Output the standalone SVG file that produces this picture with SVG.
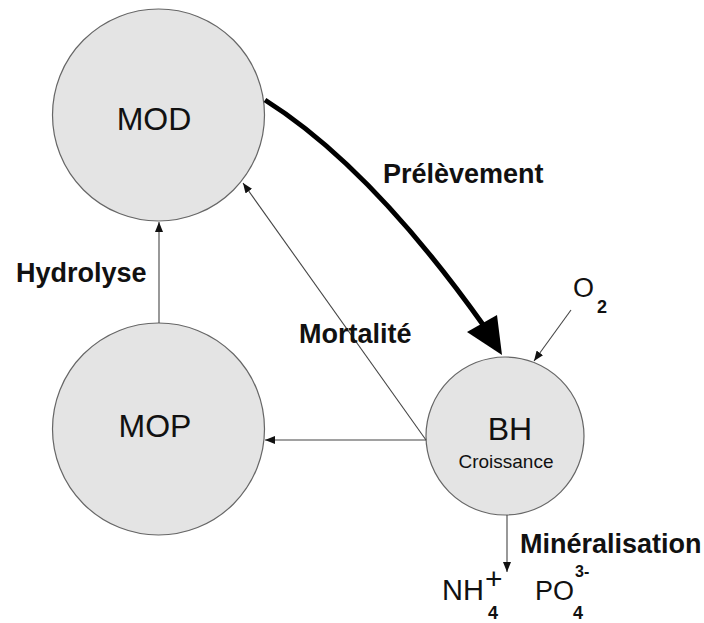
<svg xmlns="http://www.w3.org/2000/svg" width="704" height="623" viewBox="0 0 704 623">
<style>
.node{fill:#e4e4e4;stroke:#666;stroke-width:1.2}
.t{font-family:"Liberation Sans",Arial,sans-serif;fill:#111}
.big{font-size:32px}
.lbl{font-size:27px;font-weight:bold}
.thin{fill:none;stroke:#444;stroke-width:1.1}
</style>
<defs>
<marker id="ah" viewBox="0 0 10 8" refX="10" refY="4" markerWidth="10" markerHeight="8" markerUnits="userSpaceOnUse" orient="auto">
<path d="M0,0 L10,4 L0,8 z" fill="#111"/>
</marker>
</defs>
<rect width="704" height="623" fill="#fff"/>
<g id="MOD">
<circle class="node" cx="158.5" cy="115" r="106"/>
<text class="t big" x="154" y="130" text-anchor="middle">MOD</text>
</g>
<g id="MOP">
<circle class="node" cx="158.5" cy="429" r="106"/>
<text class="t big" x="155" y="437" text-anchor="middle">MOP</text>
</g>
<g id="BH">
<circle class="node" cx="505" cy="436" r="79"/>
<text class="t big" x="510" y="440" text-anchor="middle">BH</text>
<text class="t" x="506" y="468" text-anchor="middle" font-size="19">Croissance</text>
</g>
<g id="connectors">
<line class="thin" x1="159" y1="323" x2="159" y2="222" marker-end="url(#ah)"/>
<line class="thin" x1="426" y1="440" x2="265" y2="440" marker-end="url(#ah)"/>
<line class="thin" x1="426" y1="440" x2="243" y2="183" marker-end="url(#ah)"/>
<line class="thin" x1="571" y1="310" x2="534" y2="361" marker-end="url(#ah)"/>
<line class="thin" x1="507" y1="515" x2="507" y2="572" marker-end="url(#ah)"/>
<path d="M265,100 Q370,166 484,326" fill="none" stroke="#000" stroke-width="5"/>
<polygon points="502,355 467,332 497,315" fill="#000"/>
</g>
<g id="labels">
<text class="t lbl" x="16" y="282">Hydrolyse</text>
<text class="t lbl" x="383" y="183">Prélèvement</text>
<text class="t lbl" x="299" y="343">Mortalité</text>
<text class="t lbl" x="520" y="553">Minéralisation</text>
</g>
<g id="species">
<text class="t" x="573" y="297" font-size="27">O</text>
<text class="t" x="597" y="313" font-size="18" font-weight="bold">2</text>
<text class="t" x="442" y="600" font-size="29">NH</text>
<text class="t" x="485" y="589" font-size="30">+</text>
<text class="t" x="488" y="619" font-size="18" font-weight="bold">4</text>
<text class="t" x="535" y="600" font-size="27">PO</text>
<text class="t" x="575" y="577" font-size="16" font-weight="bold">3-</text>
<text class="t" x="573" y="619" font-size="18" font-weight="bold">4</text>
</g>
</svg>
